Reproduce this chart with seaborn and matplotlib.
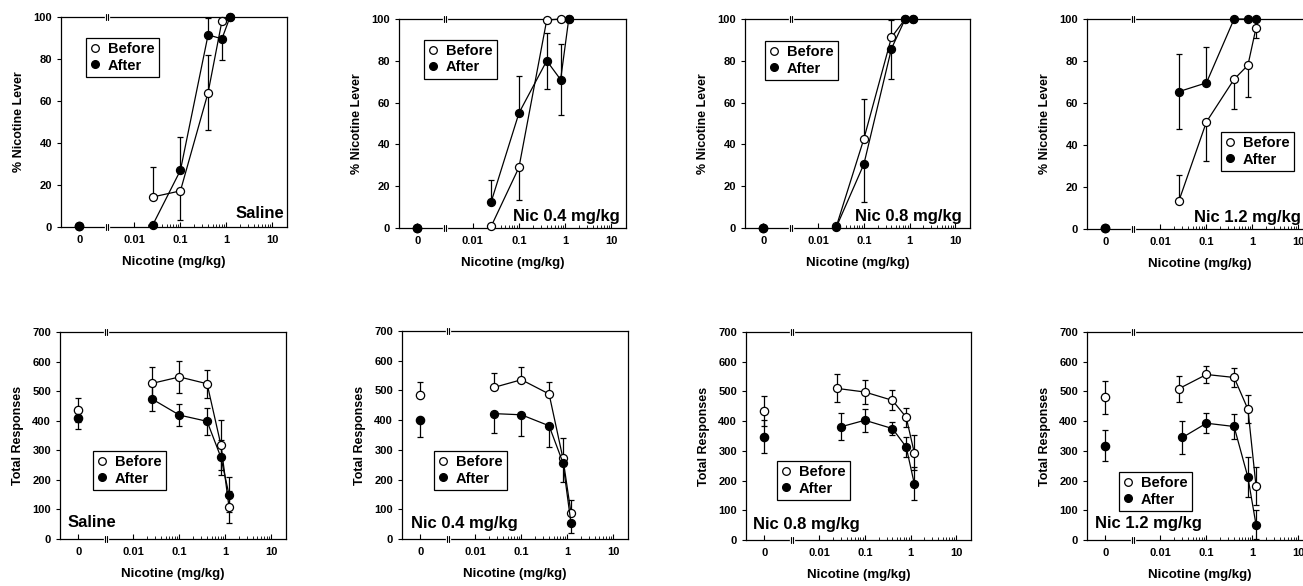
"""Drug discrimination curves: % nicotine lever and total responses, before/after chronic nicotine."""

import matplotlib
matplotlib.use("Agg")
import numpy as np
import seaborn as sns
import matplotlib.pyplot as plt
from matplotlib.lines import Line2D
from matplotlib.ticker import FixedLocator, NullFormatter
import matplotlib.transforms as mtransforms

# ---------------------------------------------------------------------------
# Data
# ---------------------------------------------------------------------------
DOSES = [0, 0.025, 0.1, 0.4, 0.8, 1.2]
DOSES_LATE = [0, 0.03, 0.1, 0.4, 0.8, 1.2]   # "after" curves in Nic 0.8 / 1.2 response panels
DOSE_TICKS = [0, 0.01, 0.1, 1, 10]
DOSE_TICK_LABELS = ["0", "0.01", "0.1", "1", "10"]

CONDITIONS = ["Saline", "Nic 0.4 mg/kg", "Nic 0.8 mg/kg", "Nic 1.2 mg/kg"]
SERIES = ["Before", "After"]

# % nicotine lever (top row), error bars drawn one-sided (lo / hi)
LEVER_SAL_BEFORE = [0.5, 14.3, 17.2, 64, 98, 100]
LEVER_SAL_BEFORE_LO = [0, 0, 13.7, 18, 0, 0]
LEVER_SAL_BEFORE_HI = [0, 14.2, 0, 18, 0, 0]
LEVER_SAL_AFTER = [0.5, 1, 27, 91.5, 89.6, 100]
LEVER_SAL_AFTER_LO = [0, 0, 0, 0, 10, 0]
LEVER_SAL_AFTER_HI = [0, 0, 16, 8, 0, 0]

LEVER_N04_BEFORE = [0, 0.8, 29, 99.5, 100, 100]
LEVER_N04_BEFORE_LO = [0, 0, 15.7, 0, 0, 0]
LEVER_N04_BEFORE_HI = [0, 0, 0, 0, 0, 0]
LEVER_N04_AFTER = [0, 12.5, 55, 80, 71, 100]
LEVER_N04_AFTER_LO = [0, 0, 0, 13.5, 17, 0]
LEVER_N04_AFTER_HI = [0, 10.5, 17.5, 13.5, 17, 0]

LEVER_N08_BEFORE = [0, 0.8, 42.7, 91.2, 100, 100]
LEVER_N08_BEFORE_LO = [0, 0, 0, 0, 0, 0]
LEVER_N08_BEFORE_HI = [0, 0, 18.8, 8.3, 0, 0]
LEVER_N08_AFTER = [0, 0.5, 30.6, 85.8, 100, 100]
LEVER_N08_AFTER_LO = [0, 0, 18.1, 14.3, 0, 0]
LEVER_N08_AFTER_HI = [0, 0, 0, 0, 0, 0]

LEVER_N12_BEFORE = [0.5, 13.2, 51, 71.3, 78, 95.7]
LEVER_N12_BEFORE_LO = [0, 0, 18.5, 14.3, 15, 4.7]
LEVER_N12_BEFORE_HI = [0, 12.4, 0, 0, 0, 0]
LEVER_N12_AFTER = [0.5, 65.4, 69.6, 100, 100, 100]
LEVER_N12_AFTER_LO = [0, 17.8, 0, 0, 0, 0]
LEVER_N12_AFTER_HI = [0, 17.9, 16.9, 0, 0, 0]

# total responses (bottom row), SEM
RESP_SAL_BEFORE = [436, 526, 548, 525, 318, 108]
RESP_SAL_BEFORE_SEM = [40, 57, 55, 48, 85, 55]
RESP_SAL_AFTER = [408, 474, 419, 398, 276, 150]
RESP_SAL_AFTER_SEM = [35, 42, 37, 45, 60, 58]

RESP_N04_BEFORE = [485, 510, 536, 488, 272, 87]
RESP_N04_BEFORE_SEM = [43, 47, 44, 40, 68, 45]
RESP_N04_AFTER = [400, 422, 418, 381, 257, 53]
RESP_N04_AFTER_SEM = [58, 66, 73, 73, 64, 33]

RESP_N08_BEFORE = [435, 510, 498, 470, 413, 294]
RESP_N08_BEFORE_SEM = [50, 47, 40, 34, 32, 60]
RESP_N08_AFTER = [348, 381, 403, 375, 313, 190]
RESP_N08_AFTER_SEM = [55, 46, 38, 23, 33, 54]

RESP_N12_BEFORE = [480, 509, 557, 547, 440, 182]
RESP_N12_BEFORE_SEM = [56, 44, 27, 32, 47, 65]
RESP_N12_AFTER = [317, 345, 393, 382, 211, 52]
RESP_N12_AFTER_SEM = [52, 56, 34, 43, 67, 50]

# Nic 0.4 response panel draws Before bars up only and After bars down only
RESP_ONE_SIDED = [False, True, False, False]

# ---------------------------------------------------------------------------
# Layout (pixels in a 1303x586 canvas)
# ---------------------------------------------------------------------------
W, H = 1303, 586
TOP_BOX = [(61, 17, 287, 227), (399, 19, 626, 228), (745, 19, 970, 228), (1087, 19, 1313, 229)]
BOT_BOX = [(60, 332, 286, 539), (402, 331, 628, 539), (746, 332, 971, 540), (1087, 332, 1313, 540)]
TOP_LEGEND = [(0.111, 0.90), (0.110, 0.90), (0.089, 0.895), (0.593, 0.462)]
BOT_LEGEND = [(0.146, 0.425), (0.142, 0.423), (0.138, 0.38), (0.142, 0.327)]
TOP_LABEL = [(0.987, 0.03), (0.974, 0.02), (0.964, 0.02), (0.947, 0.02)]
BOT_LABEL = [(0.035, 0.045), (0.04, 0.04), (0.031, 0.04), (0.035, 0.045)]

ZERO_POS = 10 ** -3.2      # where dose 0 sits on the log axis
BREAK_POS = 10 ** -2.6     # axis break between 0 and 0.01
XLIM = (10 ** -3.6, 10 ** 1.32)

sns.set_style("ticks")
plt.rcParams["font.family"] = ["Liberation Sans", "DejaVu Sans"]
plt.rcParams["font.weight"] = "bold"
plt.rcParams["axes.labelweight"] = "bold"
for key in ["text.color", "axes.labelcolor", "xtick.color", "ytick.color", "axes.edgecolor"]:
    plt.rcParams[key] = "black"


def to_pos(doses):
    return [ZERO_POS if d == 0 else d for d in doses]


def make_axes(fig, box):
    l, t, r, b = box
    return fig.add_axes([l / W, 1 - b / H, (r - l) / W, (b - t) / H])


def draw_series(ax, doses, vals, lo, hi, face):
    xs = to_pos(doses)
    for x, y, e_lo, e_hi in zip(xs, vals, lo, hi):
        if e_lo > 0 or e_hi > 0:
            ax.errorbar([x], [y], yerr=[[e_lo], [e_hi]], fmt="none", ecolor="black",
                        elinewidth=0.9, capsize=2.4, capthick=0.9, zorder=2, clip_on=False)
    sns.lineplot(x=xs[1:], y=vals[1:], ax=ax, color="black", lw=0.9, marker="o",
                 markersize=5.8, markerfacecolor=face, markeredgecolor="black",
                 markeredgewidth=0.9, estimator=None, sort=False, clip_on=False,
                 zorder=3, legend=False)
    sns.scatterplot(x=xs[:1], y=vals[:1], ax=ax, marker="o", s=36, color=face,
                    edgecolor="black", linewidth=0.9, zorder=4, clip_on=False, legend=False)


def style_axes(ax, ylim, yticks, ylabel):
    ax.set_xscale("log")
    ax.set_xlim(*XLIM)
    ax.set_ylim(*ylim)
    ax.set_yticks(yticks)
    ax.xaxis.set_major_locator(FixedLocator(to_pos(DOSE_TICKS)))
    ax.set_xticklabels(DOSE_TICK_LABELS)
    minors = [m * d for d in (0.01, 0.1, 1) for m in range(2, 10)]
    ax.xaxis.set_minor_locator(FixedLocator(minors))
    ax.xaxis.set_minor_formatter(NullFormatter())
    for side in ["top", "right", "left", "bottom"]:
        ax.spines[side].set_visible(True)
        ax.spines[side].set_linewidth(0.9)
        ax.spines[side].set_color("black")
    ax.tick_params(axis="x", which="major", direction="in", length=3.5, width=0.8,
                   labelsize=8, pad=6)
    ax.tick_params(axis="x", which="minor", direction="in", length=2, width=0.6)
    ax.tick_params(axis="y", direction="out", length=3, width=0.8, labelsize=8)
    ax.set_xlabel("Nicotine (mg/kg)", fontsize=9.5, labelpad=8)
    ax.set_ylabel(ylabel, fontsize=9, labelpad=6)
    ax.grid(False)

    # axis break marks on top and bottom spines
    trans = mtransforms.blended_transform_factory(ax.transData, ax.transAxes)
    x1, x2 = BREAK_POS * 10 ** -0.02, BREAK_POS * 10 ** 0.02
    for yy in (0, 1):
        ax.plot([x1, x2], [yy, yy], transform=trans, color="white", lw=2.5,
                clip_on=False, zorder=5)
        for xx in (x1, x2):
            ax.plot([xx, xx], [yy - 0.014, yy + 0.014], transform=trans, color="black",
                    lw=0.8, clip_on=False, zorder=6)


def add_legend(ax, pos):
    handles = [
        Line2D([], [], ls="none", marker="o", markersize=5.5, markerfacecolor="white",
               markeredgecolor="black", markeredgewidth=0.9),
        Line2D([], [], ls="none", marker="o", markersize=5.5, markerfacecolor="black",
               markeredgecolor="black"),
    ]
    leg = ax.legend(handles, SERIES, loc="upper left", bbox_to_anchor=pos,
                    bbox_transform=ax.transAxes, fontsize=10.5, frameon=True, fancybox=False,
                    edgecolor="black", framealpha=1, handlelength=0.6, handletextpad=0.6,
                    borderpad=0.3, labelspacing=0.15, borderaxespad=0)
    leg.get_frame().set_linewidth(0.9)


fig = plt.figure(figsize=(W / 100, H / 100), dpi=100)

top_data = [
    (LEVER_SAL_BEFORE, LEVER_SAL_BEFORE_LO, LEVER_SAL_BEFORE_HI,
     LEVER_SAL_AFTER, LEVER_SAL_AFTER_LO, LEVER_SAL_AFTER_HI),
    (LEVER_N04_BEFORE, LEVER_N04_BEFORE_LO, LEVER_N04_BEFORE_HI,
     LEVER_N04_AFTER, LEVER_N04_AFTER_LO, LEVER_N04_AFTER_HI),
    (LEVER_N08_BEFORE, LEVER_N08_BEFORE_LO, LEVER_N08_BEFORE_HI,
     LEVER_N08_AFTER, LEVER_N08_AFTER_LO, LEVER_N08_AFTER_HI),
    (LEVER_N12_BEFORE, LEVER_N12_BEFORE_LO, LEVER_N12_BEFORE_HI,
     LEVER_N12_AFTER, LEVER_N12_AFTER_LO, LEVER_N12_AFTER_HI),
]
bot_data = [
    (RESP_SAL_BEFORE, RESP_SAL_BEFORE_SEM, RESP_SAL_AFTER, RESP_SAL_AFTER_SEM, DOSES),
    (RESP_N04_BEFORE, RESP_N04_BEFORE_SEM, RESP_N04_AFTER, RESP_N04_AFTER_SEM, DOSES),
    (RESP_N08_BEFORE, RESP_N08_BEFORE_SEM, RESP_N08_AFTER, RESP_N08_AFTER_SEM, DOSES_LATE),
    (RESP_N12_BEFORE, RESP_N12_BEFORE_SEM, RESP_N12_AFTER, RESP_N12_AFTER_SEM, DOSES_LATE),
]

for i, cond in enumerate(CONDITIONS):
    # top row: % nicotine lever
    ax = make_axes(fig, TOP_BOX[i])
    b, b_lo, b_hi, a, a_lo, a_hi = top_data[i]
    style_axes(ax, (0, 100), np.arange(0, 101, 20), "% Nicotine Lever")
    draw_series(ax, DOSES, b, b_lo, b_hi, "white")
    draw_series(ax, DOSES, a, a_lo, a_hi, "black")
    add_legend(ax, TOP_LEGEND[i])
    ax.text(*TOP_LABEL[i], cond, transform=ax.transAxes, ha="right", va="bottom",
            fontsize=12, fontweight="bold")

    # bottom row: total responses
    ax = make_axes(fig, BOT_BOX[i])
    b, b_sem, a, a_sem, a_doses = bot_data[i]
    zeros = [0] * len(b_sem)
    style_axes(ax, (0, 700), np.arange(0, 701, 100), "Total Responses")
    if RESP_ONE_SIDED[i]:
        draw_series(ax, DOSES, b, zeros, b_sem, "white")
        draw_series(ax, a_doses, a, a_sem, zeros, "black")
    else:
        draw_series(ax, DOSES, b, b_sem, b_sem, "white")
        draw_series(ax, a_doses, a, a_sem, a_sem, "black")
    add_legend(ax, BOT_LEGEND[i])
    ax.text(*BOT_LABEL[i], cond, transform=ax.transAxes, ha="left", va="bottom",
            fontsize=12, fontweight="bold")

fig.savefig("out.png", dpi=100)
